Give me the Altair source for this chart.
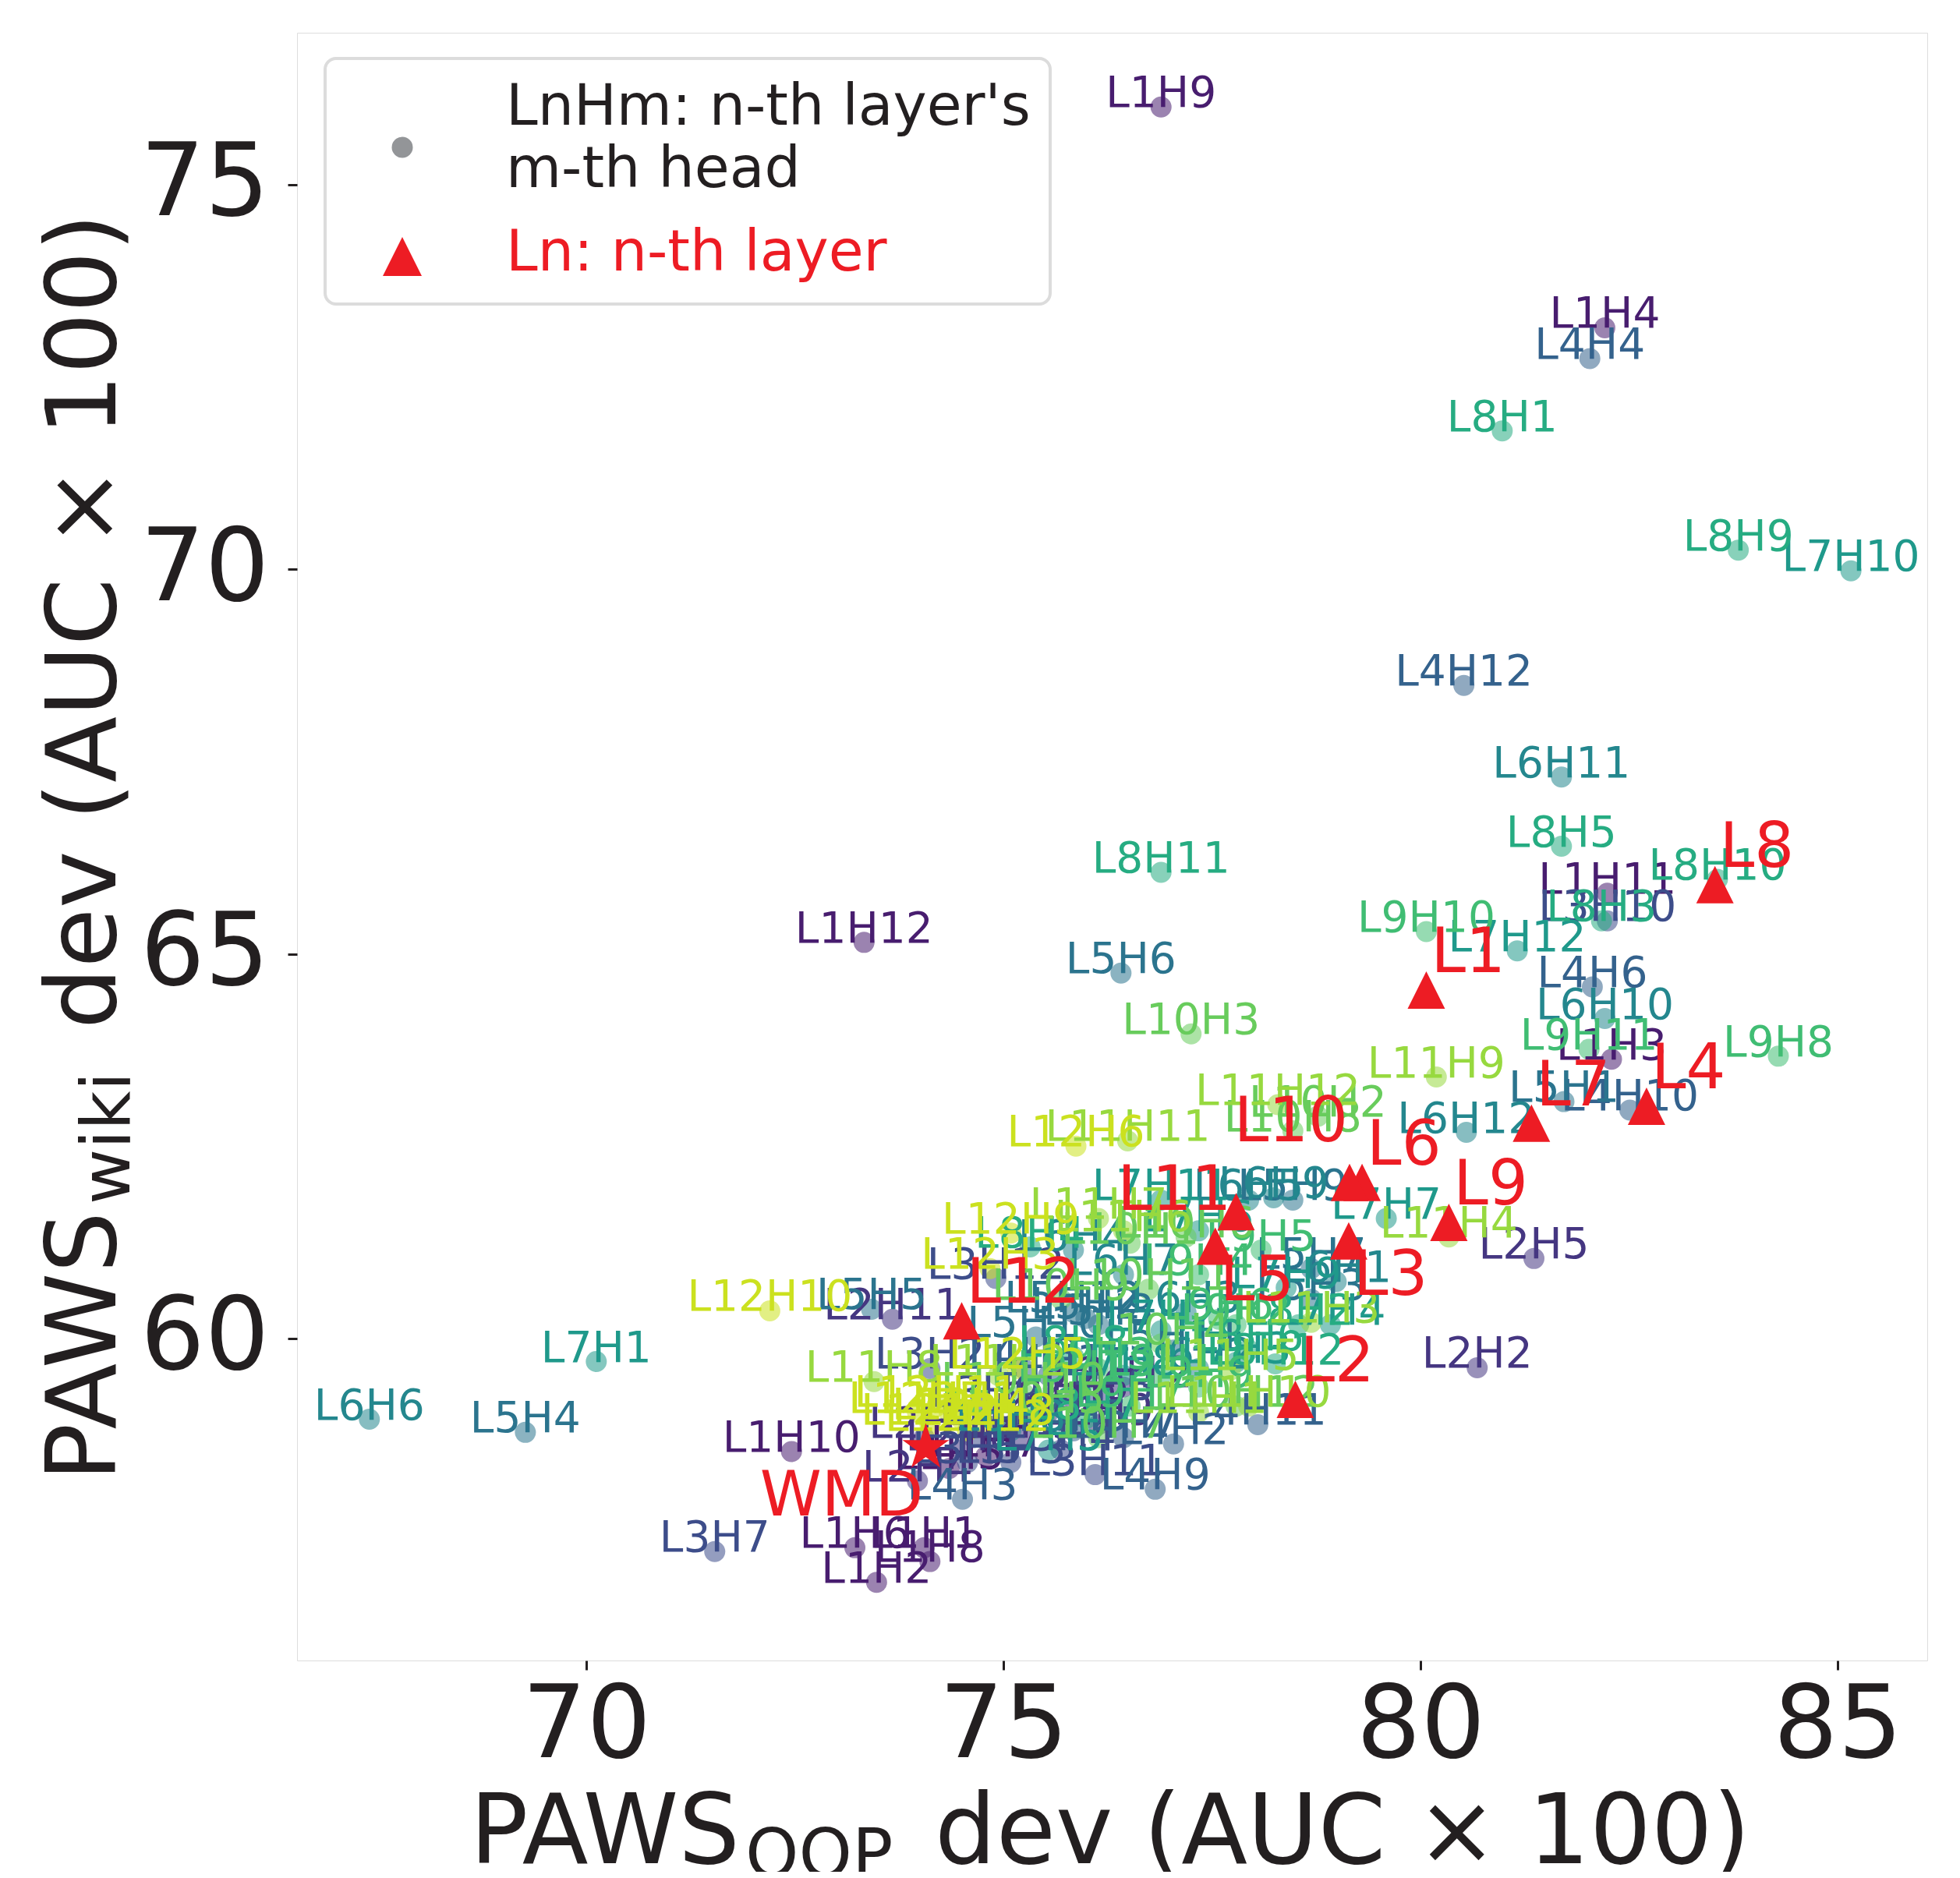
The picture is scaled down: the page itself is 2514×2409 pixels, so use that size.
import altair as alt
import pandas as pd

# ---------------- data ----------------
layer_ids = list(range(1, 13))
head_ids = list(range(1, 13))

# PAWS_OOP dev (AUC x 100) of every head, rows = layer 1..12, columns = head 1..12
head_oop = [
    [74.05, 73.48, 82.29, 82.21, 74.35, 73.22, 74.79, 74.12, 76.89, 72.46, 82.24, 73.33],
    [74.05, 80.68, 75.24, 73.97, 81.36, 75.84, 74.94, 74.49, 76.14, 75.54, 73.67, 76.44],
    [74.64, 74.12, 75.09, 75.69, 74.57, 75.24, 71.54, 76.14, 74.79, 82.24, 76.10, 74.91],
    [75.54, 77.04, 74.51, 82.03, 75.84, 82.06, 76.44, 75.24, 76.82, 82.51, 78.05, 80.52],
    [81.72, 75.99, 78.69, 69.27, 73.42, 76.41, 78.69, 76.14, 78.47, 75.39, 77.04, 75.84],
    [78.99, 77.34, 77.19, 75.84, 77.94, 67.40, 76.44, 75.09, 78.24, 82.21, 81.69, 80.55],
    [70.12, 76.89, 77.79, 78.92, 75.54, 77.34, 79.59, 76.44, 78.39, 85.16, 76.89, 81.16],
    [80.98, 78.54, 82.17, 75.32, 81.69, 77.94, 75.99, 75.84, 83.81, 83.56, 76.89, 78.26],
    [76.89, 77.79, 76.14, 77.34, 78.09, 77.58, 76.52, 84.29, 77.34, 80.07, 82.02, 75.99],
    [76.52, 78.77, 77.25, 76.89, 75.39, 77.19, 76.14, 78.47, 75.69, 75.24, 76.74, 77.79],
    [77.34, 74.94, 78.69, 80.34, 77.72, 76.44, 76.14, 73.45, 80.19, 77.94, 76.49, 78.29],
    [74.35, 74.12, 74.84, 74.49, 75.17, 75.87, 73.97, 74.79, 75.09, 72.20, 74.20, 74.57],
]
# PAWS_wiki dev (AUC x 100) of every head
head_wiki = [
    [57.28, 56.83, 63.63, 73.14, 58.31, 57.28, 58.47, 57.10, 76.01, 58.53, 65.79, 65.15],
    [58.71, 59.62, 58.71, 58.15, 61.04, 59.21, 58.88, 58.55, 58.88, 59.04, 60.25, 59.37],
    [58.71, 59.61, 58.39, 58.55, 58.39, 58.96, 57.23, 59.21, 59.12, 65.43, 58.23, 60.78],
    [59.52, 58.63, 57.91, 72.74, 58.80, 64.57, 58.71, 59.61, 58.04, 62.97, 58.88, 68.49],
    [63.08, 60.26, 60.51, 58.78, 60.38, 64.75, 60.91, 60.18, 61.80, 60.02, 59.85, 60.34],
    [60.74, 59.61, 60.34, 61.15, 61.80, 58.95, 60.83, 58.80, 61.83, 64.16, 67.30, 62.68],
    [59.70, 60.10, 59.69, 60.18, 58.55, 61.40, 61.56, 59.52, 60.66, 69.98, 61.80, 65.04],
    [71.80, 60.18, 65.43, 61.19, 66.40, 59.85, 58.96, 59.77, 70.25, 65.97, 66.06, 59.67],
    [59.52, 60.18, 59.61, 60.83, 61.15, 60.25, 59.12, 63.67, 59.37, 65.29, 63.76, 59.44],
    [61.24, 62.89, 63.96, 59.93, 59.04, 61.32, 58.71, 62.70, 60.51, 59.29, 60.64, 59.12],
    [59.04, 59.52, 60.21, 61.32, 59.59, 61.40, 61.56, 59.44, 63.40, 59.12, 62.57, 63.04],
    [59.04, 58.88, 60.91, 58.96, 59.61, 62.50, 59.04, 58.88, 61.37, 60.36, 59.12, 58.80],
]

layer_names = [f"L{n}" for n in layer_ids]
layer_oop = [80.07, 78.50, 79.14, 82.71, 77.54, 79.30, 81.33, 83.53, 80.34, 79.15, 77.79, 74.50]
layer_wiki = [64.53, 59.21, 61.27, 63.02, 61.20, 62.03, 62.80, 65.90, 61.51, 62.03, 61.65, 60.23]

wmd_name = ["WMD"]
wmd_oop = [74.07]
wmd_wiki = [58.58]

x_ticks = [70, 75, 80, 85]
y_ticks = [60, 65, 70, 75]

# ---------------- tables ----------------
rows = []
for li, layer in enumerate(layer_ids):
    for hi, head in enumerate(head_ids):
        rows.append({"layer": layer, "label": f"L{layer}H{head}",
                     "oop": head_oop[li][hi], "wiki": head_wiki[li][hi]})
heads = pd.DataFrame(rows)
layers = pd.DataFrame({"name": layer_names, "oop": layer_oop, "wiki": layer_wiki})
wmd = pd.DataFrame({"name": wmd_name, "oop": wmd_oop, "wiki": wmd_wiki})
one = pd.DataFrame({"k": [0]})

# ---------------- style ----------------
FONT = "DejaVu Sans"
INK = "#231f20"
RED = "#ed1c24"
W, H = 2091, 2088
TRI = "M0,-1L-1,1L1,1Z"
STAR = ("M0,-1L0.2245,-0.309L0.9511,-0.309L0.3633,0.118L0.5878,0.809L0,0.382"
        "L-0.5878,0.809L-0.3633,0.118L-0.9511,-0.309L-0.2245,-0.309Z")

xscale = alt.Scale(domain=[66.533, 86.075], nice=False, zero=False)
yscale = alt.Scale(domain=[55.814, 76.976], nice=False, zero=False)
axis_common = dict(grid=False, domain=False, title=None, labelFont=FONT,
                   labelFontSize=130, labelColor=INK, tickColor=INK,
                   tickSize=12, tickWidth=3, labelFlush=False, labelOverlap=False)
X = alt.X("oop:Q", scale=xscale,
          axis=alt.Axis(values=x_ticks, labelPadding=8, **axis_common))
Y = alt.Y("wiki:Q", scale=yscale,
          axis=alt.Axis(values=y_ticks, labelPadding=24, **axis_common))
C = alt.Color("layer:Q", legend=None,
              scale=alt.Scale(scheme=alt.SchemeParams(name="viridis", extent=[1 / 13, 12 / 13]),
                              domain=[1, 12]))

dots = alt.Chart(heads).mark_circle(size=729, opacity=0.55).encode(x=X, y=Y, color=C)
head_text = alt.Chart(heads).mark_text(
    font=FONT, fontSize=55, align="center", baseline="alphabetic"
).encode(x=X, y=Y, color=C, text="label:N")

tris = alt.Chart(layers).mark_point(
    shape=TRI, size=2304, filled=True, color=RED, opacity=1, strokeWidth=0
).encode(x=X, y=Y)
star = alt.Chart(wmd).mark_point(
    shape=STAR, size=3970, filled=True, color=RED, opacity=1, strokeWidth=0
).encode(x=X, y=Y)


def layer_label(names, **kw):
    return alt.Chart(layers).transform_filter(
        alt.FieldOneOfPredicate(field="name", oneOf=names)
    ).mark_text(font=FONT, fontSize=80, color=RED, **kw).encode(x=X, y=Y, text="name:N")


lab_ur = layer_label(["L1", "L2", "L4", "L6", "L7", "L8", "L9", "L12"],
                     align="left", baseline="alphabetic", dx=6, dy=-23)
lab_lr = layer_label(["L3", "L5"], align="left", baseline="top", dx=6, dy=6)
lab_l11 = layer_label(["L11"], align="right", baseline="alphabetic", dx=-6, dy=-2)
lab_l10 = layer_label(["L10"], align="right", baseline="alphabetic", dx=-2, dy=-53)
wmd_text = alt.Chart(wmd).mark_text(
    font=FONT, fontSize=80, color=RED, align="right", baseline="top", dx=-3, dy=24
).encode(x=X, y=Y, text="name:N")

# ---------------- legend (drawn by hand, in pixels) ----------------
leg_box = alt.Chart(one).mark_rect(
    fill="white", stroke="#dcdcdc", strokeWidth=4, cornerRadius=14
).encode(x=alt.value(36), x2=alt.value(966), y=alt.value(33), y2=alt.value(348))
leg_dot = alt.Chart(one).mark_circle(size=729, color="#939598", opacity=1).encode(
    x=alt.value(135), y=alt.value(147))
leg_tri = alt.Chart(one).mark_point(
    shape=TRI, size=2500, filled=True, color=RED, opacity=1, strokeWidth=0
).encode(x=alt.value(135), y=alt.value(287))


def free_text(txt, x, y, size, color=INK, align="left", baseline="alphabetic", angle=0):
    kw = dict(font=FONT, fontSize=size, color=color, align=align, baseline=baseline)
    if angle:
        kw["angle"] = angle
    return alt.Chart(one).mark_text(**kw).encode(
        x=alt.value(x), y=alt.value(y), text=alt.value(txt))


leg_t1 = free_text("LnHm: n-th layer's", 268, 118, 73)
leg_t2 = free_text("m-th head", 268, 198, 73)
leg_t3 = free_text("Ln: n-th layer", 268, 305, 73, color=RED)

# ---------------- axis titles with subscripts ----------------
xt1 = free_text("PAWS", 568, 2348, 124, align="right")
xt2 = free_text("OOP", 575, 2366, 87)
xt3 = free_text("dev (AUC × 100)", 818, 2348, 124)

yt1 = free_text("PAWS", -233, 1512, 124, align="right", angle=270)
yt2 = free_text("wiki", -215, 1503, 87, angle=270)
yt3 = free_text("dev (AUC × 100)", -233, 1278, 124, angle=270)

chart = alt.layer(
    dots, head_text, tris, star, lab_ur, lab_lr, lab_l11, lab_l10, wmd_text,
    leg_box, leg_dot, leg_tri, leg_t1, leg_t2, leg_t3,
    xt1, xt2, xt3, yt1, yt2, yt3,
).properties(
    width=W, height=H,
    autosize=alt.AutoSizeParams(type="none"),
    padding={"left": 373, "top": 34, "right": 34, "bottom": 271},
).configure_view(
    stroke=INK, strokeWidth=4
).configure(font=FONT, background="white")

chart.save("out.html", embed_options={"renderer": "svg", "actions": False})
